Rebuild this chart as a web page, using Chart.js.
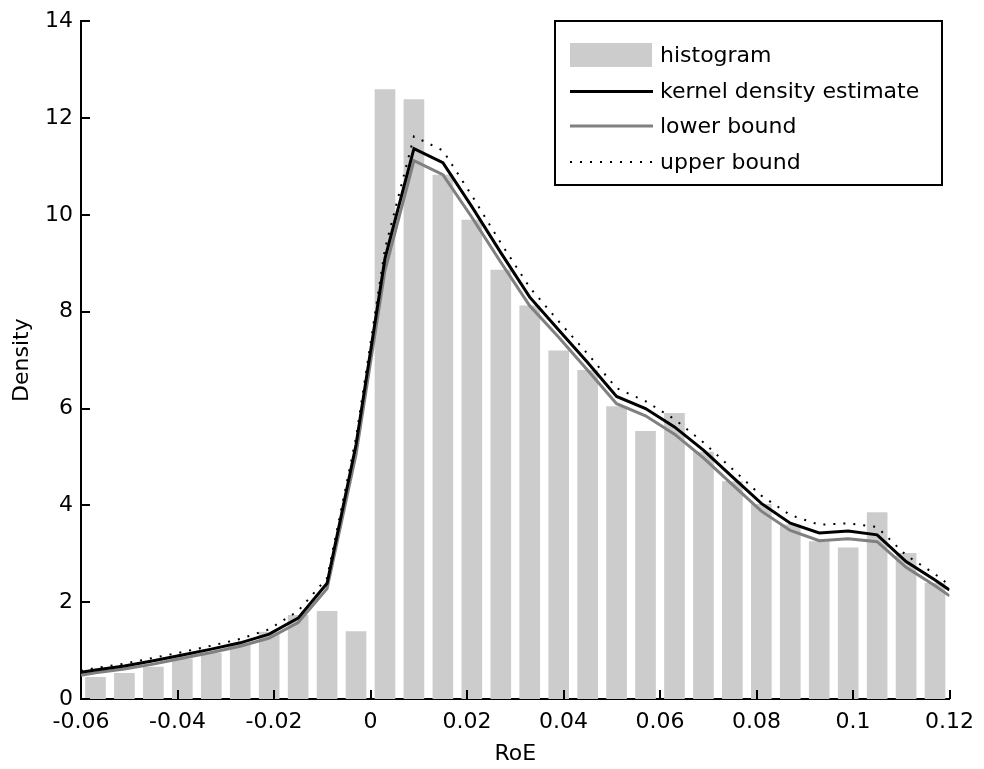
<!DOCTYPE html>
<html>
<head>
<meta charset="utf-8">
<script src="https://cdn.jsdelivr.net/npm/chart.js@4.4.0/dist/chart.umd.min.js"></script>
<style>
html, body { margin: 0; padding: 0; background: #fff; }
#wrap { width: 984px; height: 769px; }
</style>
</head>
<body>
<div id="wrap"><canvas id="densityChart" width="984" height="769"></canvas></div>
<script>
// Histogram: bin centers (bin width 0.006) and densities
const binCenters = [-0.057, -0.051, -0.045, -0.039, -0.033, -0.027, -0.021, -0.015, -0.009, -0.003,
                    0.003, 0.009, 0.015, 0.021, 0.027, 0.033, 0.039, 0.045, 0.051, 0.057,
                    0.063, 0.069, 0.075, 0.081, 0.087, 0.093, 0.099, 0.105, 0.111, 0.117];
const histValues = [0.45, 0.53, 0.66, 0.83, 0.95, 1.15, 1.38, 1.73, 1.81, 1.39,
                    12.59, 12.38, 10.82, 9.89, 8.86, 8.12, 7.19, 6.79, 6.04, 5.53,
                    5.90, 5.10, 4.49, 4.02, 3.60, 3.25, 3.12, 3.85, 3.01, 2.39];

// Kernel density estimate and its bounds
const kdeX = [-0.06, -0.057, -0.051, -0.045, -0.039, -0.033, -0.027, -0.021, -0.015, -0.009, -0.003,
              0.003, 0.009, 0.015, 0.021, 0.027, 0.033, 0.039, 0.045, 0.051, 0.057,
              0.063, 0.069, 0.075, 0.081, 0.087, 0.093, 0.099, 0.105, 0.111, 0.117, 0.12];
const kdeValues = [0.55, 0.60, 0.68, 0.79, 0.91, 1.03, 1.16, 1.34, 1.67, 2.39, 5.25,
                   9.10, 11.37, 11.08, 10.17, 9.22, 8.30, 7.62, 6.95, 6.25, 6.00,
                   5.62, 5.14, 4.59, 4.04, 3.63, 3.43, 3.47, 3.39, 2.84, 2.46, 2.25];
const lowerValues = [0.49, 0.54, 0.62, 0.72, 0.84, 0.96, 1.09, 1.26, 1.58, 2.28, 5.05,
                     8.85, 11.12, 10.83, 9.95, 9.02, 8.12, 7.47, 6.79, 6.10, 5.85,
                     5.47, 4.98, 4.43, 3.88, 3.48, 3.27, 3.31, 3.25, 2.72, 2.34, 2.13];
const upperValues = [0.58, 0.64, 0.73, 0.85, 0.97, 1.10, 1.24, 1.44, 1.82, 2.50, 5.40,
                     9.30, 11.62, 11.33, 10.40, 9.42, 8.50, 7.80, 7.13, 6.42, 6.15,
                     5.78, 5.30, 4.75, 4.20, 3.80, 3.60, 3.63, 3.55, 2.97, 2.58, 2.35];

const xTicks = [-0.06, -0.04, -0.02, 0, 0.02, 0.04, 0.06, 0.08, 0.1, 0.12];
const yTicks = [0, 2, 4, 6, 8, 10, 12, 14];

const FONT = "'DejaVu Sans', sans-serif";

function toPoints(xs, ys) {
    return xs.map((x, i) => ({ x: x, y: ys[i] }));
}

// marcas de eje hacia dentro, como en MATLAB
const innerTicks = {
    id: 'innerTicks',
    afterDatasetsDraw(chart) {
        const { ctx, chartArea, scales } = chart;
        ctx.save();
        ctx.strokeStyle = '#000';
        ctx.lineWidth = 2;
        ctx.beginPath();
        xTicks.forEach(v => {
            const px = Math.round(scales.x.getPixelForValue(v));
            ctx.moveTo(px, chartArea.bottom);
            ctx.lineTo(px, chartArea.bottom - 9);
        });
        yTicks.forEach(v => {
            const py = Math.round(scales.y.getPixelForValue(v));
            ctx.moveTo(chartArea.left, py);
            ctx.lineTo(chartArea.left + 9, py);
        });
        ctx.stroke();
        ctx.restore();
    }
};

// leyenda en recuadro dentro del área del gráfico
const boxLegend = {
    id: 'boxLegend',
    afterDraw(chart) {
        const ctx = chart.ctx;
        const box = { left: 555, top: 21, right: 942, bottom: 185 };
        const rows = [55, 91.5, 126, 162];
        ctx.save();
        ctx.fillStyle = '#fff';
        ctx.fillRect(box.left, box.top, box.right - box.left, box.bottom - box.top);
        ctx.strokeStyle = '#000';
        ctx.lineWidth = 2;
        ctx.strokeRect(box.left, box.top, box.right - box.left, box.bottom - box.top);
        const order = [0, 2, 1, 3];
        order.forEach((di, r) => {
            const ds = chart.data.datasets[di];
            const y = rows[r];
            if (ds.type === 'bar') {
                ctx.fillStyle = ds.backgroundColor;
                ctx.fillRect(570, y - 12, 82, 24);
            } else {
                ctx.strokeStyle = ds.borderColor;
                ctx.lineWidth = ds.borderWidth;
                ctx.setLineDash(ds.borderDash || []);
                ctx.beginPath();
                ctx.moveTo(570, y);
                ctx.lineTo(653, y);
                ctx.stroke();
                ctx.setLineDash([]);
            }
            ctx.fillStyle = '#000';
            ctx.font = '22px ' + FONT;
            ctx.textBaseline = 'middle';
            ctx.textAlign = 'left';
            ctx.fillText(ds.label, 660, y + 1);
        });
        ctx.restore();
    }
};

new Chart(document.getElementById('densityChart'), {
    type: 'bar',
    data: {
        datasets: [
            {
                type: 'bar',
                label: 'histogram',
                data: toPoints(binCenters, histValues),
                backgroundColor: '#cccccc',
                borderWidth: 0,
                barThickness: 20,
                order: 4
            },
            {
                type: 'line',
                label: 'lower bound',
                data: toPoints(kdeX, lowerValues),
                borderColor: '#808080',
                borderWidth: 3,
                pointRadius: 0,
                tension: 0,
                fill: false,
                order: 3
            },
            {
                type: 'line',
                label: 'kernel density estimate',
                data: toPoints(kdeX, kdeValues),
                borderColor: '#000000',
                borderWidth: 3,
                pointRadius: 0,
                tension: 0,
                fill: false,
                order: 2
            },
            {
                type: 'line',
                label: 'upper bound',
                data: toPoints(kdeX, upperValues),
                borderColor: '#000000',
                borderWidth: 2,
                borderDash: [2, 8],
                pointRadius: 0,
                tension: 0,
                fill: false,
                order: 1
            }
        ]
    },
    options: {
        responsive: false,
        devicePixelRatio: 1,
        animation: false,
        layout: { padding: { left: 0, top: 21, right: 31, bottom: 0 } },
        plugins: { legend: { display: false }, tooltip: { enabled: false } },
        scales: {
            x: {
                type: 'linear',
                min: -0.06,
                max: 0.12,
                offset: false,
                afterBuildTicks: (scale) => { scale.ticks = xTicks.map(v => ({ value: v })); },
                afterFit: (scale) => { scale.height = 70; },
                grid: { display: false, drawTicks: false },
                border: { display: true, color: '#000', width: 2 },
                ticks: {
                    autoSkip: false,
                    maxRotation: 0,
                    padding: 10,
                    color: '#000',
                    font: { family: FONT, size: 22 },
                    callback: (v) => String(v)
                },
                title: {
                    display: true,
                    text: 'RoE',
                    color: '#000',
                    font: { family: FONT, size: 22 },
                    padding: { top: 0, bottom: 2 }
                }
            },
            y: {
                type: 'linear',
                min: 0,
                max: 14,
                afterBuildTicks: (scale) => { scale.ticks = yTicks.map(v => ({ value: v })); },
                afterFit: (scale) => { scale.width = 81; },
                grid: { display: false, drawTicks: false },
                border: { display: true, color: '#000', width: 2 },
                ticks: {
                    padding: 8,
                    color: '#000',
                    font: { family: FONT, size: 22 }
                },
                title: {
                    display: true,
                    text: 'Density',
                    color: '#000',
                    font: { family: FONT, size: 22 },
                    padding: { top: 9, bottom: 0 }
                }
            }
        }
    },
    plugins: [innerTicks, boxLegend]
});
</script>
</body>
</html>
